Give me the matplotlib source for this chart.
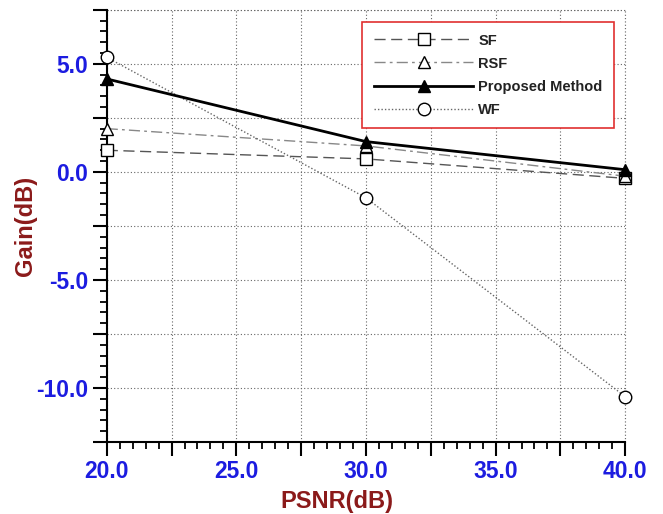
import numpy as np
import matplotlib
matplotlib.use("Agg")
import matplotlib.pyplot as plt
from matplotlib.ticker import MultipleLocator, FuncFormatter

plt.rcParams['font.family'] = ['Liberation Sans', 'DejaVu Sans']

psnr = [20.0, 30.0, 40.0]
gain_sf = [1.0, 0.6, -0.3]
gain_rsf = [2.0, 1.2, -0.2]
gain_proposed = [4.3, 1.4, 0.1]
gain_wf = [5.3, -1.2, -10.4]

fig = plt.figure(figsize=(6.63, 5.14), dpi=100)
ax = fig.add_axes([0.161, 0.140, 0.782, 0.841])

common = dict(markersize=9, markeredgecolor='black', clip_on=False)
ax.plot(psnr, gain_sf, color='#555555', linestyle=(0, (8, 4)), linewidth=1.0,
        marker='s', markerfacecolor='white', label='SF', zorder=3, **common)
ax.plot(psnr, gain_rsf, color='#888888', linestyle=(0, (8, 3, 2, 3)), linewidth=1.0,
        marker='^', markerfacecolor='white', label='RSF', zorder=3, **common)
ax.plot(psnr, gain_proposed, color='black', linestyle='-', linewidth=2.0,
        marker='^', markerfacecolor='black', label='Proposed Method', zorder=4, **common)
ax.plot(psnr, gain_wf, color='#666666', linestyle=(0, (1, 1.5)), linewidth=1.0,
        marker='o', markerfacecolor='white', label='WF', zorder=3, **common)

ax.set_xlim(20, 40)
ax.set_ylim(-12.5, 7.5)


def every_five(v, pos):
    return '%.1f' % v if abs(v / 5 - round(v / 5)) < 1e-6 else ''


ax.xaxis.set_major_locator(MultipleLocator(2.5))
ax.xaxis.set_minor_locator(MultipleLocator(0.5))
ax.yaxis.set_major_locator(MultipleLocator(2.5))
ax.yaxis.set_minor_locator(MultipleLocator(0.5))
ax.xaxis.set_major_formatter(FuncFormatter(every_five))
ax.yaxis.set_major_formatter(FuncFormatter(every_five))

ax.grid(which='major', color='#666666', linestyle=(0, (1, 2)), linewidth=0.8, zorder=1)
ax.axhline(7.5, color='#666666', linestyle=(0, (1, 2)), linewidth=0.8, zorder=1, clip_on=False)
ax.axvline(40, color='#666666', linestyle=(0, (1, 2)), linewidth=0.8, zorder=1, clip_on=False)
ax.set_axisbelow(True)

ax.spines['top'].set_visible(False)
ax.spines['right'].set_visible(False)
ax.spines['left'].set_linewidth(1.5)
ax.spines['bottom'].set_linewidth(1.5)

ax.tick_params(axis='both', which='major', direction='out', length=10, width=1.5,
               labelsize=16.5, labelcolor='#1c1ce0')
ax.tick_params(axis='both', which='minor', direction='out', length=5, width=1.3)
ax.tick_params(axis='x', which='major', pad=3)
for lab in ax.get_xticklabels() + ax.get_yticklabels():
    lab.set_fontweight('bold')

ax.set_xlabel('PSNR(dB)', fontsize=17, fontweight='bold', color='#8b1a1a')
ax.xaxis.set_label_coords(0.444, -0.110)
ax.set_ylabel('Gain(dB)', fontsize=17, fontweight='bold', color='#8b1a1a')
ax.yaxis.set_label_coords(-0.135, 0.50)

leg = ax.legend(loc='upper right', bbox_to_anchor=(0.979, 0.972), fontsize=10.5,
                handlelength=6.8, handletextpad=0.35, labelspacing=0.62,
                borderpad=0.8, borderaxespad=0.0, fancybox=False, framealpha=1.0)
leg.get_frame().set_edgecolor('#e03030')
leg.get_frame().set_linewidth(1.2)
for t in leg.get_texts():
    t.set_color('#222222')
    t.set_fontweight('bold')

fig.savefig('out.png', dpi=100)
